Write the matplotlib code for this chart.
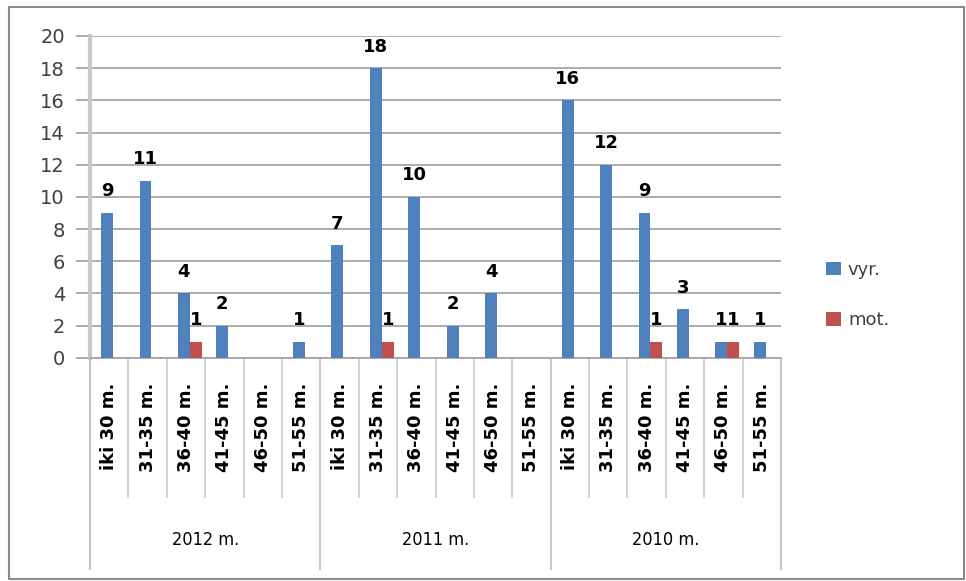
import matplotlib.pyplot as plt
import matplotlib.patches as mpatches
import numpy as np

# --- data ---
years = ['2012 m.', '2011 m.', '2010 m.']
age_groups = ['iki 30 m.', '31-35 m.', '36-40 m.', '41-45 m.', '46-50 m.', '51-55 m.']
vyr = [9, 11, 4, 2, 0, 1,
       7, 18, 10, 2, 4, 0,
       16, 12, 9, 3, 1, 1]
mot = [0, 0, 1, 0, 0, 0,
       0, 1, 0, 0, 0, 0,
       0, 0, 1, 0, 1, 0]
y_ticks = [0, 2, 4, 6, 8, 10, 12, 14, 16, 18, 20]

blue = '#4F81BD'
red = '#C0504D'

W, H = 966, 581
fig = plt.figure(figsize=(W / 100, H / 100), dpi=100)

# plot area in pixels (from reference)
left_px, right_px, top_px, bot_px = 90, 781, 36, 357.7
ax = fig.add_axes([left_px / W, 1 - bot_px / H, (right_px - left_px) / W, (bot_px - top_px) / H])

n = len(vyr)
x = np.arange(n)
bw = 0.31
ax.bar(x - bw / 2 + 0.1, vyr, bw, color=blue, label='vyr.', zorder=3)
ax.bar(x + bw / 2 + 0.1, mot, bw, color=red, label='mot.', zorder=3)

# data labels (zeros hidden)
for i in range(n):
    if vyr[i]:
        ax.annotate(str(vyr[i]), (x[i] - bw / 2 + 0.1, vyr[i]), xytext=(0, 9),
                    textcoords='offset points', ha='center', va='bottom',
                    fontsize=13, fontweight='bold')
    if mot[i]:
        ax.annotate(str(mot[i]), (x[i] + bw / 2 + 0.1, mot[i]), xytext=(0, 9),
                    textcoords='offset points', ha='center', va='bottom',
                    fontsize=13, fontweight='bold')

ax.set_xlim(-0.5, n - 0.5)
ax.set_ylim(0, 20)
ax.set_yticks(y_ticks)
ax.tick_params(axis='y', length=10, width=1.3, color='#A6A6A6', labelsize=14,
               labelcolor='#404040', pad=8)
ax.yaxis.grid(True, color='#A6A6A6', linewidth=1.3, zorder=0)

for s in ['top', 'right', 'left']:
    ax.spines[s].set_visible(False)
ax.spines['bottom'].set_color('#A6A6A6')
ax.spines['bottom'].set_linewidth(1.3)

# category labels (rotated)
ax.set_xticks(x)
ax.set_xticklabels(age_groups * len(years), rotation=90, fontsize=13,
                   fontweight='bold', va='top', ha='center')
ax.tick_params(axis='x', length=0, pad=18)

# separator lines of the two-level category axis
trans = ax.get_xaxis_transform()
inner_y = -(497 - bot_px) / (bot_px - top_px)
outer_y = -(569 - bot_px) / (bot_px - top_px)
for k in range(n + 1):
    edge = k - 0.5
    if k % len(age_groups) == 0:
        ax.plot([edge, edge], [0, outer_y], transform=trans, color='#C8C8C8',
                lw=1.5, clip_on=False)
    else:
        ax.plot([edge, edge], [0, inner_y], transform=trans, color='#D0D0D0',
                lw=1.3, clip_on=False)
# left axis line
ax.plot([-0.5, -0.5], [1, 0], transform=trans, color='#C8C8C8', lw=3, clip_on=False)

year_y = -(540 - bot_px) / (bot_px - top_px)
for j, yr in enumerate(years):
    ax.text(j * len(age_groups) + 2.5, year_y, yr, transform=trans, ha='center',
            va='center', fontsize=13, fontstretch='condensed',
            family=['Liberation Sans Narrow', 'DejaVu Sans'])

# legend
ax.legend(loc='center left', bbox_to_anchor=(810 / W, 1 - 295 / H),
          bbox_transform=fig.transFigure, frameon=False, fontsize=13,
          labelcolor='#404040', handlelength=0.8, handleheight=0.8,
          handletextpad=0.4, labelspacing=1.8)

# chart border
fig.patches.append(mpatches.Rectangle((9 / W, 1 - 579 / H), (964 - 9) / W, (579 - 7) / H,
                                      transform=fig.transFigure, fill=False,
                                      edgecolor='#8C8C8C', lw=1.5))

fig.savefig('out.png', dpi=100)
